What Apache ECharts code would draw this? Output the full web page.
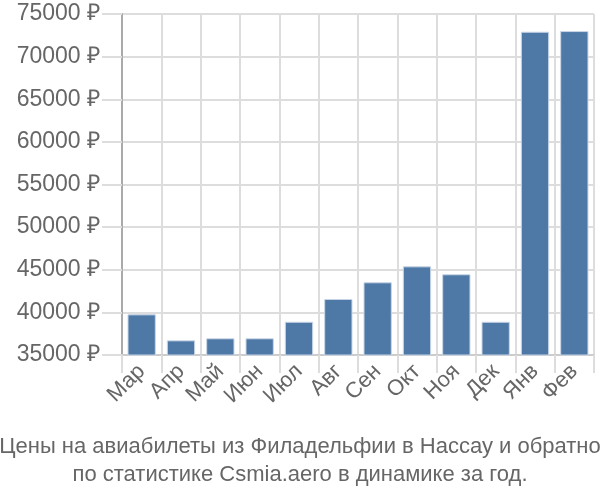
<!DOCTYPE html>
<html><head><meta charset="utf-8">
<script src="https://cdn.jsdelivr.net/npm/echarts@6/dist/echarts.min.js"></script>
<style>html,body{margin:0;padding:0;background:#fff}#c{width:600px;height:500px}</style>
</head><body><div id="c"></div>
<script>
const categories = ['Мар','Апр','Май','Июн','Июл','Авг','Сен','Окт','Ноя','Дек','Янв','Фев'];
const prices = [39770, 36720, 36960, 36960, 38900, 41570, 43530, 45400, 44470, 38900, 72920, 73000];
const titleLines = ['Цены на авиабилеты из Филадельфии в Нассау и обратно', 'по статистике Csmia.aero в динамике за год.'];
const yMin = 35000, yMax = 75000, yStep = 5000;

const FONT = 'Liberation Sans, Arial, sans-serif';
const chart = echarts.init(document.getElementById('c'), null, {renderer: 'canvas'});
chart.setOption({
  animation: false,
  title: {
    text: titleLines.join('\n'),
    left: 'center', bottom: 6,
    textStyle: {fontFamily: FONT, fontSize: 22, fontWeight: 'normal', color: '#666', lineHeight: 28}
  },
  grid: {left: 122, right: 6, top: 14, bottom: 145, containLabel: false},
  xAxis: {
    type: 'category', data: categories,
    axisLine: {show: true, lineStyle: {color: '#ccc', width: 2}},
    axisTick: {show: true, length: 18, lineStyle: {color: '#ddd', width: 2}},
    splitLine: {show: true, lineStyle: {color: '#ddd', width: 2}},
    axisLabel: {rotate: 45, fontFamily: FONT, fontSize: 22, color: '#666', margin: 13, interval: 0}
  },
  yAxis: {
    type: 'value', min: yMin, max: yMax, interval: yStep,
    axisLine: {show: true, lineStyle: {color: '#aaa', width: 2}},
    axisTick: {show: true, length: 20, lineStyle: {color: '#ddd', width: 2}},
    splitLine: {show: true, lineStyle: {color: '#ddd', width: 2}},
    axisLabel: {formatter: v => String(v) + ' ₽', fontFamily: FONT, fontSize: 23, color: '#666', margin: 22}
  },
  series: [{
    type: 'bar', data: prices, barCategoryGap: '28%',
    itemStyle: {color: '#4e79a7', borderColor: '#c9d6e6', borderWidth: 1}
  }]
});
</script></body></html>
